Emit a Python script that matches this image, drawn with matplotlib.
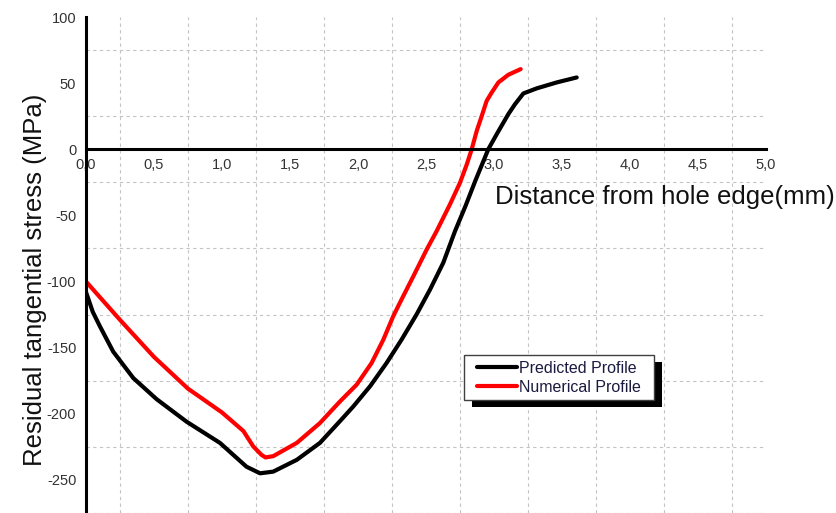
import numpy as np
import matplotlib
matplotlib.use('Agg')
import matplotlib.pyplot as plt
from matplotlib.patches import Rectangle

plt.rcParams['font.family'] = ['Liberation Sans', 'DejaVu Sans']

# Perfil predicho (negro)
pred_x = [0, 0.05, 0.103, 0.2, 0.348, 0.52, 0.74, 0.985, 1.18, 1.28, 1.377, 1.55, 1.72,
          1.868, 1.965, 2.09, 2.21, 2.32, 2.43, 2.53, 2.627, 2.713, 2.79, 2.862, 2.958,
          3.02, 3.105, 3.154, 3.216, 3.313, 3.46, 3.608]
pred_y = [-108, -123, -134, -153, -173, -189, -206, -222, -240, -245, -243.7, -234.8, -222,
          -205.5, -194.5, -179, -161.6, -144, -125, -106, -85.8, -62, -43, -24, 0,
          11.4, 26.5, 34, 42.2, 46, 50.5, 54.3]

# Perfil numerico (rojo)
num_x = [0, 0.25, 0.5, 0.75, 1.0, 1.157, 1.23, 1.29, 1.32, 1.377, 1.55, 1.72,
         1.868, 1.99, 2.10, 2.186, 2.26, 2.32, 2.407, 2.505, 2.578, 2.676, 2.75, 2.80,
         2.836, 2.873, 2.91, 2.946, 2.983, 3.032, 3.105, 3.196]
num_y = [-100, -129, -157, -181, -199, -213, -224.7, -231, -233, -232, -222, -207,
         -190.6, -178, -161.6, -144, -126, -113.6, -96, -75.8, -61.9, -41.7, -25.3, -11.4,
         0, 13.9, 25.2, 36.6, 42.9, 50.5, 56.3, 60.6]

x_ticks = [0, 0.5, 1.0, 1.5, 2.0, 2.5, 3.0, 3.5, 4.0, 4.5, 5.0]
x_labels = ['0,0', '0,5', '1,0', '1,5', '2,0', '2,5', '3,0', '3,5', '4,0', '4,5', '5,0']
y_ticks = [100, 50, 0, -50, -100, -150, -200, -250]
y_labels = ['100', '50', '0', '-50', '-100', '-150', '-200', '-250']

W, H = 837, 513
fig = plt.figure(figsize=(W / 100, H / 100), dpi=100)
ax = fig.add_axes([86 / W, 0, (766 - 86) / W, 1 - 17 / H])

ax.set_xlim(0, 5)
ax.set_ylim(-275, 100)

# Rejilla desplazada media division
ax.set_xticks(np.arange(0.25, 5.0, 0.5), minor=True)
ax.set_yticks(np.arange(-275, 100, 50), minor=True)
ax.grid(which='minor', color='#c4c4c4', linestyle=(0, (3, 3)), linewidth=0.8)
ax.tick_params(which='minor', length=0)

ax.set_xticks(x_ticks)
ax.set_xticklabels(x_labels)
ax.set_yticks(y_ticks)
ax.set_yticklabels(y_labels)
ax.tick_params(which='major', length=0, labelsize=10.5, colors='#333333')
ax.tick_params(axis='x', pad=6)
ax.tick_params(axis='y', pad=7)

ax.spines['top'].set_visible(False)
ax.spines['right'].set_visible(False)
ax.spines['bottom'].set_position(('data', 0))
ax.spines['left'].set_linewidth(2.2)
ax.spines['bottom'].set_linewidth(2.2)
ax.set_axisbelow(True)

ax.plot(pred_x, pred_y, color='black', lw=3, label='Predicted Profile',
        solid_capstyle='round', solid_joinstyle='round')
ax.plot(num_x, num_y, color='red', lw=3, label='Numerical Profile',
        solid_capstyle='round', solid_joinstyle='round')

fig.text(835 / W, 1 - 197 / H, 'Distance from hole edge(mm)', ha='right', va='center',
         fontsize=18.5, color='#111111')
fig.text(35 / W, 1 - 280 / H, 'Residual tangential stress (MPa)', rotation=90,
         ha='center', va='center', fontsize=18.5, color='#111111')

# Leyenda sin marco; el marco y la sombra se dibujan aparte
leg = ax.legend(loc='upper left', bbox_to_anchor=(477 / W, 1 - 361 / H),
                bbox_transform=fig.transFigure, borderaxespad=0, frameon=False,
                fontsize=11.5, handlelength=2.5, handletextpad=0.1, labelspacing=0.25,
                borderpad=0)
leg.set_zorder(6)
for t in leg.get_texts():
    t.set_color('#1a1a40')

bx0, by0, bx1, by1 = 464, 355, 654, 400
ax.add_patch(Rectangle(((bx0 + 8) / W, 1 - (by1 + 7) / H), (bx1 - bx0) / W, (by1 - by0) / H,
                       transform=fig.transFigure, facecolor='black', edgecolor='none',
                       zorder=4.7, clip_on=False))
ax.add_patch(Rectangle((bx0 / W, 1 - by1 / H), (bx1 - bx0) / W, (by1 - by0) / H,
                       transform=fig.transFigure, facecolor='white', edgecolor='#404040',
                       linewidth=1.0, zorder=4.8, clip_on=False))

fig.savefig('out.png', dpi=100)
